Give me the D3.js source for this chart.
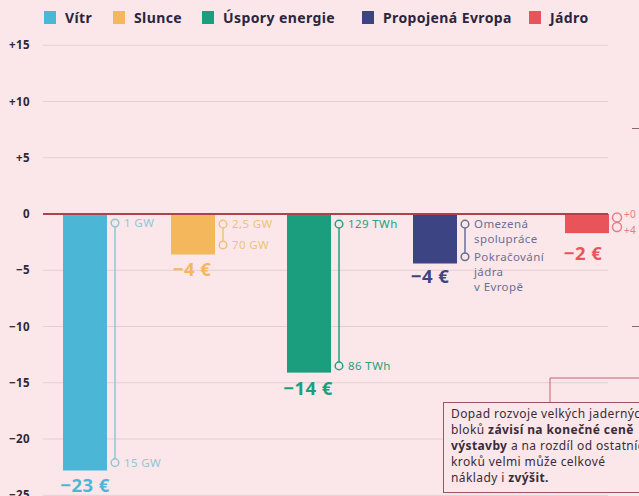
<!DOCTYPE html>
<html>
<head>
<meta charset="utf-8">
<script src="https://cdn.jsdelivr.net/npm/d3@7"></script>
<style>
  html, body { margin: 0; padding: 0; background: #fbe7e9; }
  svg { display: block; font-family: "Noto Sans", sans-serif; letter-spacing: 0.4px; }
</style>
</head>
<body>
<div id="chart"></div>
<script>
// data
var categories = ["Vítr", "Slunce", "Úspory energie", "Propojená Evropa", "Jádro"];
var values = [-22.8, -3.6, -14.1, -4.4, -1.7];
var valueLabels = ["−23 €", "−4 €", "−14 €", "−4 €", "−2 €"];
var rangeFrom = [-0.8, -0.9, -0.9, -0.9, -0.3];
var rangeTo = [-22.1, -2.75, -13.5, -3.8, -1.15];
var rangeFromLabels = [["1 GW"], ["2,5 GW"], ["129 TWh"], ["Omezená", "spolupráce"], ["+0"]];
var rangeToLabels = [["15 GW"], ["70 GW"], ["86 TWh"], ["Pokračování", "jádra", "v Evropě"], ["+4"]];
var colors = ["#4cb6d6", "#f4b75c", "#1b9e7e", "#3d4483", "#e9545a"];
var rangeColors = ["#8fc6d8", "#efc27a", "#25a080", "#6a6f96", "#e27f84"];
var tickValues = [15, 10, 5, 0, -5, -10, -15, -20, -25];
var tickLabels = ["+15", "+10", "+5", "0", "−5", "−10", "−15", "−20", "−25"];

var width = 639, height = 496;

var svg = d3.select("#chart").append("svg")
    .attr("width", width)
    .attr("height", height);

svg.append("rect").attr("width", width).attr("height", height).attr("fill", "#fbe7e9");

var y = d3.scaleLinear()
    .domain([-25, 15])
    .range([495.25, 45.25]);

// bars are not evenly spaced in the original
var x = d3.scaleOrdinal()
    .domain(categories)
    .range([63, 171, 287, 413, 565]);
var barW = 44;

// gridlines
svg.append("g")
  .selectAll("line")
  .data(tickValues.filter(function(d) { return d != 0; }))
  .enter().append("line")
    .attr("x1", 43).attr("x2", 608)
    .attr("y1", function(d) { return y(d); })
    .attr("y2", function(d) { return y(d); })
    .attr("stroke", "#e6cdd1")
    .attr("stroke-width", 1);

// tick labels
svg.append("g")
  .selectAll("text")
  .data(tickValues)
  .enter().append("text")
    .attr("x", 30)
    .attr("y", function(d) { return y(d); })
    .attr("dy", "0.35em")
    .attr("text-anchor", "end")
    .attr("font-size", 11.5)
    .attr("font-weight", "bold")
    .attr("fill", "#2e2838")
    .text(function(d, i) { return tickLabels[i]; });

// bars
svg.append("g")
  .selectAll("rect")
  .data(categories)
  .enter().append("rect")
    .attr("x", function(d) { return x(d); })
    .attr("y", y(0))
    .attr("width", barW)
    .attr("height", function(d, i) { return y(values[i]) - y(0); })
    .attr("fill", function(d, i) { return colors[i]; });

// zero line
svg.append("line")
  .attr("x1", 43).attr("x2", 608)
  .attr("y1", y(0)).attr("y2", y(0))
  .attr("stroke", "#b0404c")
  .attr("stroke-width", 2);

// value labels under bars
var labelDx = [22, 21, 21, 17, 18];
var labelDy = [15, 15, 16, 13, 20];
svg.append("g")
  .selectAll("text")
  .data(categories)
  .enter().append("text")
    .attr("x", function(d, i) { return x(d) + labelDx[i]; })
    .attr("y", function(d, i) { return y(values[i]) + labelDy[i]; })
    .attr("dy", "0.35em")
    .attr("text-anchor", "middle")
    .attr("font-size", 18.5)
    .attr("font-weight", "bold")
    .attr("fill", function(d, i) { return colors[i]; })
    .text(function(d, i) { return valueLabels[i]; });

// ranges
var rangeG = svg.append("g")
  .selectAll("g")
  .data(categories)
  .enter().append("g")
    .attr("transform", function(d) { return "translate(" + (x(d) + barW + 8) + ",0)"; });

rangeG.append("line")
  .attr("y1", function(d, i) { return y(rangeFrom[i]); })
  .attr("y2", function(d, i) { return y(rangeTo[i]); })
  .attr("stroke", function(d, i) { return rangeColors[i]; })
  .attr("stroke-width", 1.5);

rangeG.append("circle")
  .attr("cy", function(d, i) { return y(rangeFrom[i]); })
  .attr("r", function(d, i) { return i == 4 ? 4.5 : 3.8; })
  .attr("fill", "#fbe7e9")
  .attr("stroke", function(d, i) { return rangeColors[i]; })
  .attr("stroke-width", 1.5);

rangeG.append("circle")
  .attr("cy", function(d, i) { return y(rangeTo[i]); })
  .attr("r", function(d, i) { return i == 4 ? 4.5 : 3.8; })
  .attr("fill", "#fbe7e9")
  .attr("stroke", function(d, i) { return rangeColors[i]; })
  .attr("stroke-width", 1.5);

function rangeText(sel, labels, vals, isTo) {
  sel.append("text")
    .attr("y", function(d, i) {
      var off = i == 4 ? (isTo ? 4 : -3) : 0;
      return y(vals[i]) + off;
    })
    .attr("font-size", function(d, i) { return i == 4 ? 10 : 11.5; })
    .attr("fill", function(d, i) { return rangeColors[i]; })
    .each(function(d, i) {
      var t = d3.select(this);
      labels[i].forEach(function(line, j) {
        t.append("tspan")
          .attr("x", i == 4 ? 7 : 9)
          .attr("dy", j == 0 ? "0.35em" : "1.3em")
          .text(line);
      });
    });
}
rangeText(rangeG, rangeFromLabels, rangeFrom, false);
rangeText(rangeG, rangeToLabels, rangeTo, true);

// legend
var legendX = [44, 113, 202, 362, 529];
var legend = svg.append("g")
  .selectAll("g")
  .data(categories)
  .enter().append("g")
    .attr("transform", function(d, i) { return "translate(" + legendX[i] + ",11)"; });
legend.append("rect")
  .attr("width", 12).attr("height", 13)
  .attr("fill", function(d, i) { return colors[i]; });
legend.append("text")
  .attr("x", 21).attr("y", 7)
  .attr("dy", "0.35em")
  .attr("font-size", 14)
  .attr("font-weight", "bold")
  .attr("fill", "#2b2540")
  .text(function(d) { return d; });

// cut-off bits of the neighbouring chart
svg.append("g")
  .selectAll("line")
  .data([7.6, -10])
  .enter().append("line")
    .attr("x1", 632).attr("x2", 639)
    .attr("y1", function(d) { return y(d); })
    .attr("y2", function(d) { return y(d); })
    .attr("stroke", "#8a6a70")
    .attr("stroke-width", 1);

// annotation box
svg.append("path")
  .attr("d", "M550,403V378H640")
  .attr("fill", "none")
  .attr("stroke", "#c9606e")
  .attr("stroke-width", 1);
svg.append("rect")
  .attr("x", 443.5).attr("y", 402.5)
  .attr("width", 210).attr("height", 90)
  .attr("fill", "#fbe7e9")
  .attr("stroke", "#9c5565")
  .attr("stroke-width", 1);

var note = [
  [["Dopad rozvoje velkých jaderných", false]],
  [["bloků ", false], ["závisí na konečné ceně", true]],
  [["výstavby", true], [" a na rozdíl od ostatních", false]],
  [["kroků velmi může celkové", false]],
  [["náklady i ", false], ["zvýšit.", true]]
];
var noteText = svg.append("text")
  .attr("font-size", 12)
  .attr("fill", "#3a2b3a");
note.forEach(function(line, j) {
  line.forEach(function(part, k) {
    var ts = noteText.append("tspan").text(part[0]);
    if (k == 0) ts.attr("x", 451).attr("y", 418 + j * 16);
    if (part[1]) ts.attr("font-weight", "bold");
  });
});
</script>
</body>
</html>
